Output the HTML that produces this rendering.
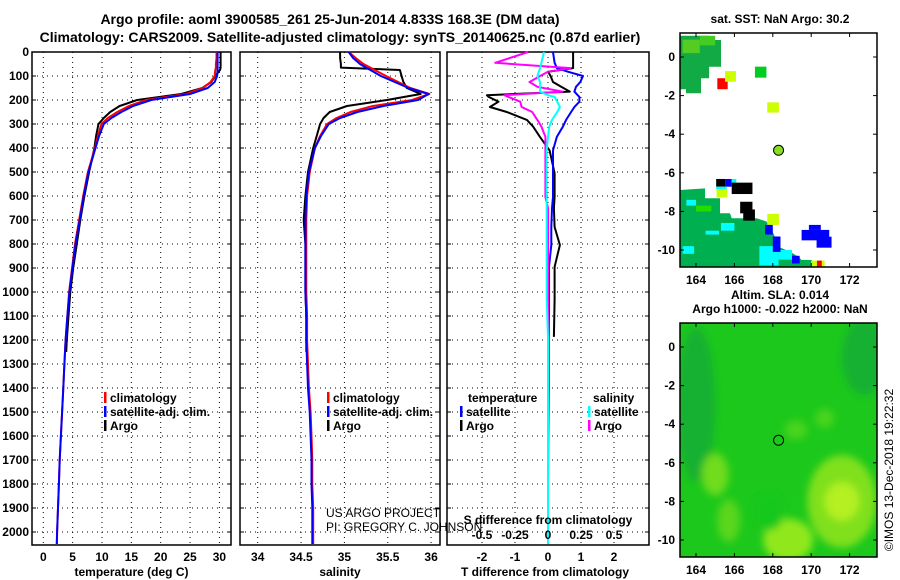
<!DOCTYPE html>
<html><head><meta charset="utf-8"><style>
body{margin:0;background:#fff;}
svg{display:block;font-family:"Liberation Sans",sans-serif;}
.b{font-weight:bold;font-size:12px;}
</style></head><body>
<svg id="c" width="900" height="580" viewBox="0 0 900 580" xmlns="http://www.w3.org/2000/svg">
<defs><filter id="bl" x="-50%" y="-50%" width="200%" height="200%"><feGaussianBlur stdDeviation="4"/></filter>
<clipPath id="cm1"><rect x="680" y="33" width="197" height="234"/></clipPath>
<clipPath id="cm2"><rect x="680" y="323" width="197" height="234"/></clipPath></defs>
<text x="330" y="24" text-anchor="middle" font-weight="bold" font-size="14">Argo profile: aoml 3900585_261 25-Jun-2014 4.833S 168.3E (DM data)</text>
<text x="340" y="42" text-anchor="middle" font-weight="bold" font-size="14">Climatology: CARS2009. Satellite-adjusted climatology: synTS_20140625.nc (0.87d earlier)</text>
</svg>
<script>
// depth levels (dbar)
const depths=[0,25,50,65,75,100,125,150,175,200,225,250,275,300,350,400,500,600,700,800,900,1000,1100,1200,1300,1400,1500,1600,1700,1800,1900,2000,2050];
const tempClim=[29.5,29.5,29.4,29.4,29.3,29.2,28.5,27.2,24.3,17.5,14.6,12.6,11.0,9.9,9.3,8.8,7.6,6.8,6.1,5.4,4.9,4.4,4.1,3.8,3.6,3.4,3.2,3.0,2.8,2.65,2.5,2.35,2.3];
const tempSat=[29.7,29.7,29.7,29.7,29.7,29.6,29.2,28.0,25.0,18.4,15.3,13.3,11.6,10.3,9.5,8.9,7.7,6.9,6.2,5.5,4.95,4.45,4.1,3.8,3.6,3.4,3.2,3.0,2.8,2.65,2.5,2.35,2.3];
const argoDepths=[0,25,50,65,75,100,125,150,175,200,225,250,275,300,350,400,500,600,700,800,900,1000,1100,1200,1250];
const tempArgo=[30.2,30.2,30.2,30.2,30.1,29.3,28.6,27.1,23.5,16.0,13.0,11.4,10.3,9.4,9.0,8.7,7.8,7.0,6.3,5.7,5.1,4.6,4.3,4.0,3.9];
const salClim=[35.05,35.13,35.22,35.30,35.35,35.48,35.62,35.76,35.98,35.78,35.33,35.07,34.91,34.80,34.72,34.66,34.60,34.57,34.56,34.56,34.56,34.56,34.57,34.57,34.58,34.59,34.61,34.62,34.63,34.63,34.64,34.64,34.64];
const salSat=[35.05,35.10,35.18,35.25,35.30,35.42,35.58,35.74,35.97,35.85,35.45,35.15,34.95,34.82,34.73,34.66,34.59,34.56,34.55,34.55,34.55,34.55,34.56,34.56,34.57,34.58,34.60,34.61,34.62,34.62,34.63,34.63,34.63];
const salArgo=[34.95,34.95,34.96,34.96,35.64,35.66,35.68,35.72,35.88,35.49,35.03,34.83,34.76,34.72,34.68,34.64,34.58,34.55,34.53,34.55,34.55,34.55,34.56,34.56,34.56];
// difference panel
const diffDepths=[0,45,67,82,100,125,145,165,180,187,207,229,250,283,311,353,410,505,604,650,729,804,895,1033,1187,1250,1400,1600,1800,2000,2050];
const dTArgo=[0.76,0.76,0.76,0.0,0.08,0.15,0.4,0.66,-1.85,-1.8,-1.5,-1.76,-1.25,-0.64,-0.45,-0.25,0.05,0.2,0.2,0.18,0.2,0.36,0.2,0.2,0.18,null,null,null,null,null,null];
const dTSat=[0.15,0.2,0.27,0.6,1.06,0.98,0.85,0.8,0.9,0.95,0.95,0.8,0.7,0.55,0.45,0.27,0.15,0.15,0.15,0.12,0.1,0.1,0.03,0.03,0.02,0.02,0.02,0.01,0.0,0.0,0.0];
const dSArgo=[-0.15,-0.4,0.17,0.0,-0.06,-0.14,-0.08,0.11,-0.33,-0.3,-0.21,-0.2,-0.12,-0.08,-0.05,-0.02,-0.02,-0.02,-0.02,0.0,0.0,0.0,0.0,0.0,0.0,0.0,0.0,0.0,0.0,0.0,0.0];
const dSSat=[-0.03,-0.05,-0.06,-0.07,-0.08,-0.06,-0.06,-0.06,0.0,0.05,0.07,0.09,0.07,0.03,0.01,0.0,-0.01,-0.01,-0.01,-0.01,-0.01,-0.01,-0.01,-0.01,0.0,0.0,0.0,0.0,0.0,0.0,0.0];
const depthTicks=[0,100,200,300,400,500,600,700,800,900,1000,1100,1200,1300,1400,1500,1600,1700,1800,1900,2000];
const tTicks=[0,5,10,15,20,25,30];
const sTicks=[34,34.5,35,35.5,36];
const sTickLabels=["34","34.5","35","35.5","36"];
const dTTicks=[-2,-1,0,1,2];
const dSTicks=[-0.5,-0.25,0,0.25,0.5];
const dSTickLabels=["-0.5","-0.25","0","0.25","0.5"];
const lonTicks=[164,166,168,170,172];
const latTicks=[0,-2,-4,-6,-8,-10];
// SST map patches [lon0,lat0,lon1,lat1,color]
const sstCells=[[165.11,-1.10,165.65,-1.67,"#ff0000"],[165.51,-0.73,166.08,-1.28,"#ccff00"],[167.07,-0.5,167.67,-1.07,"#00cc22"],[167.71,-2.35,168.32,-2.88,"#ccff00"],[167.71,-8.13,168.32,-8.70,"#ccff00"],
[165.05,-6.32,165.53,-6.72,"#000000"],[165.53,-6.32,165.86,-6.72,"#0000ff"],[165.86,-6.32,166.1,-6.55,"#00ffff"],[165.86,-6.51,166.94,-7.1,"#000000"],[165.07,-6.84,165.63,-7.27,"#ccff00"],[165.05,-6.72,165.6,-6.84,"#00ffff"],
[166.3,-7.5,166.94,-8.1,"#000000"],[166.46,-7.9,167.07,-8.48,"#000000"],[169.5,-8.96,170.94,-9.5,"#0000ff"],[169.88,-8.7,170.5,-8.96,"#0000ff"],[170.28,-9.31,171.06,-9.88,"#0000ff"],
[163.3,-9.8,163.9,-10.2,"#00ffff"],[165.3,-8.6,166.0,-9.0,"#00ffff"],[167.3,-9.8,168.3,-10.8,"#00ffff"],[168.3,-10.0,169.0,-10.5,"#00ffff"],[164.5,-9.0,165.2,-9.2,"#00ffff"],[163.5,-7.4,164.0,-7.7,"#00ffff"],
[168.0,-9.3,168.4,-10.1,"#0000ff"],[167.6,-8.7,168.0,-9.2,"#0000ff"],[169.0,-10.3,169.4,-10.7,"#0000ff"],[170.0,-10.55,170.7,-10.9,"#ccff00"],[170.3,-10.55,170.55,-10.9,"#ff0000"],
[164.0,-7.7,164.8,-8.0,"#22dd00"],[163.3,0.9,164.2,0.2,"#55cc22"],[164.2,1.1,165.0,0.6,"#44cc22"]];
const sstNW=[[163.13,1.1],[164.68,1.1],[164.68,0.88],[165.3,0.88],[165.3,-0.5],[164.68,-0.5],[164.68,-1.1],[164.26,-1.1],[164.26,-1.88],[163.48,-1.88],[163.48,-1.67],[163.13,-1.67]];
const sstSW=[[163.13,-6.89],[164.47,-6.81],[164.47,-7.32],[165.25,-7.32],[165.25,-8.1],[165.77,-8.1],[165.86,-8.36],[166.46,-8.36],[167.16,-8.36],[167.68,-8.53],[168.03,-9.14],[168.11,-9.31],[168.29,-9.83],[168.9,-10.09],[169.33,-10.35],[169.5,-10.52],[170.03,-10.52],[170.12,-10.87],[163.13,-10.87]];
// SLA blobs [lon,lat,rx(deg),ry(deg),color]
const slaBlobs=[[164.0,-3,1.0,4,"#12b030"],[172.8,-0.5,1.2,2,"#12b030"],[171.6,-8,1.8,2.4,"#80e01c"],[171.6,-8,0.9,1.0,"#b4f020"],[168.8,-10,1.3,1.1,"#90e81c"],[165.0,-6.6,0.7,1.1,"#70dc1c"],[165.7,-9,0.6,1.1,"#5ad61c"],[169.2,-4.3,0.6,0.5,"#4ad41c"],[170.7,-3.7,0.5,0.5,"#4ad41c"],[167.8,-8.5,0.8,1.0,"#14c81c"]];
const argoLon=168.3, argoLat=-4.833;

const svg=document.getElementById('c');const NS="http://www.w3.org/2000/svg";
function mk(tag,attrs,parent){const e=document.createElementNS(NS,tag);for(const k in attrs)e.setAttribute(k,attrs[k]);(parent||svg).appendChild(e);return e;}
const TOP=52,BOT=545;
const yD=d=>TOP+d*0.24;
const x1=t=>43.3+t*5.87, x2=s=>257.7+(s-34)*86.7, x3T=t=>548+t*33, x3S=s=>548+s*132;
const lonX=l=>696+(l-164)*19.2, latY1=l=>57-l*19.3, latY2=l=>347-l*19.3;

function panel(name,L,R,xs,ticks,labels,title){
  const g=mk('g',{});
  
  
  ticks.forEach(v=>{const l=mk('line',{x1:xs(v),x2:xs(v),y1:TOP,y2:BOT,stroke:'#000','stroke-dasharray':'1,4'},g);
    });
  depthTicks.forEach(d=>{const l=mk('line',{x1:L,x2:R,y1:yD(d),y2:yD(d),stroke:'#000','stroke-dasharray':'1,4'},g);
    
    mk('line',{x1:R-4,x2:R,y1:yD(d),y2:yD(d),stroke:'#000'},g);mk('line',{x1:L,x2:L+4,y1:yD(d),y2:yD(d),stroke:'#000'},g);});
  const fr=mk('rect',{x:L,y:TOP,width:R-L,height:BOT-TOP,fill:'none',stroke:'#000','stroke-width':1.5},g);
  
  if(labels) ticks.forEach((v,i)=>{const t=mk('text',{x:xs(v),y:561,'text-anchor':'middle',class:'b'},g);t.textContent=labels[i];
    });
  const tt=mk('text',{x:(L+R)/2+(title.length>20?-3:0),y:576,'text-anchor':'middle',class:'b'},g);tt.textContent=title;
  
  return g;
}
function line(name,ds,vs,xs,color,w,parent){
  let p='',pen=false;
  ds.forEach((d,i)=>{const v=vs[i];if(v===null||v===undefined){pen=false;return;}p+=(pen?'L':'M')+xs(v).toFixed(1)+','+yD(d).toFixed(1);pen=true;});
  const e=mk('path',{d:p,fill:'none',stroke:color,'stroke-width':w||2,'stroke-linejoin':'round'},parent);
  return e;
}
const g1=panel('temperature-panel',32,231,x1,tTicks,tTicks.map(String),'temperature (deg C)');
const g2=panel('salinity-panel',240,440,x2,sTicks,sTickLabels,'salinity');
const g3=panel('difference-panel',447,649,x3T,dTTicks,dTTicks.map(String),'T difference from climatology');
depthTicks.forEach(d=>{const t=mk('text',{x:29,y:yD(d)+4,'text-anchor':'end',class:'b'});t.textContent=d;
  });
line('temp-argo-line',argoDepths,tempArgo,x1,'#000',2,g1);
line('temp-climatology-line',depths,tempClim,x1,'#f00',2,g1);
line('temp-satellite-line',depths,tempSat,x1,'#00f',2,g1);
line('sal-argo-line',argoDepths,salArgo,x2,'#000',2,g2);
line('sal-climatology-line',depths,salClim,x2,'#f00',2,g2);
line('sal-satellite-line',depths,salSat,x2,'#00f',2,g2);
line('dT-argo-line',diffDepths,dTArgo,x3T,'#000',2,g3);
line('dT-satellite-line',diffDepths,dTSat,x3T,'#00f',2,g3);
line('dS-argo-line',diffDepths,dSArgo,x3S,'#f0f',2,g3);
line('dS-satellite-line',diffDepths,dSSat,x3S,'#0ff',2,g3);
dSTicks.forEach((v,i)=>{const t=mk('text',{x:x3S(v),y:539,'text-anchor':'middle',class:'b'},g3);t.textContent=dSTickLabels[i];
  });
{const t=mk('text',{x:548,y:524,'text-anchor':'middle',class:'b'},g3);t.textContent='S difference from climatology';
 }
function legend(x,y,color,label,name){const g=mk('g',{});
  mk('rect',{x:x,y:y-10,width:2.5,height:11,fill:color},g);if(label){const t=mk('text',{x:x+6,y:y,class:'b'},g);t.textContent=label;}}
legend(104,402,'#f00','climatology','legend-climatology');
legend(104,416,'#00f','satellite-adj. clim.','legend-satellite-adj');
legend(104,430,'#000','Argo','legend-argo');
legend(327,402,'#f00','climatology','legend-climatology-sal');
legend(327,416,'#00f','satellite-adj. clim.','legend-satellite-adj-sal');
legend(327,430,'#000','Argo','legend-argo-sal');
{const t=mk('text',{x:468,y:402,class:'b'});t.textContent='temperature';
 const s=mk('text',{x:593,y:402,class:'b'});s.textContent='salinity';}
legend(460,416,'#00f','satellite','legend-dT-satellite');
legend(460,430,'#000','Argo','legend-dT-argo');
legend(588,416,'#0ff','satellite','legend-dS-satellite');
legend(588,430,'#f0f','Argo','legend-dS-argo');
{const t=mk('text',{x:326,y:517,'font-size':'12'});t.textContent='US ARGO PROJECT';
 const s=mk('text',{x:326,y:531,'font-size':'12'});s.textContent='PI: GREGORY C. JOHNSON';}

function toPts(arr,ly){return arr.map(p=>lonX(p[0]).toFixed(1)+','+ly(p[1]).toFixed(1)).join(' ');}
function mapFrame(name,top,ly,title1,title2){
  const g=mk('g',{});
  lonTicks.forEach(l=>{mk('line',{x1:lonX(l),x2:lonX(l),y1:top+234,y2:top+230,stroke:'#000'},g);mk('line',{x1:lonX(l),x2:lonX(l),y1:top,y2:top+4,stroke:'#000'},g);
    const t=mk('text',{x:lonX(l),y:top+251,'text-anchor':'middle',class:'b'},g);t.textContent=l;});
  latTicks.forEach(l=>{mk('line',{x1:680,x2:684,y1:ly(l),y2:ly(l),stroke:'#000'},g);mk('line',{x1:877,x2:873,y1:ly(l),y2:ly(l),stroke:'#000'},g);
    const t=mk('text',{x:675,y:ly(l)+4,'text-anchor':'end',class:'b'},g);t.textContent=l;});
  const c=mk('circle',{cx:lonX(argoLon),cy:ly(argoLat),r:5,fill:name==='sst-map'?'#88dd22':'none',stroke:'#000'},g);
  
  mk('rect',{x:680,y:top,width:197,height:234,fill:'none',stroke:'#000','stroke-width':1.5},g);
  const t=mk('text',{x:780,y:title2?top-24:top-10,'text-anchor':'middle',class:'b'},g);t.textContent=title1;
  if(title2){const t2=mk('text',{x:780,y:top-10,'text-anchor':'middle',class:'b'},g);t2.textContent=title2;}
  return g;
}
// SST map
const m1=mk('g',{'clip-path':'url(#cm1)'});
mk('polygon',{points:toPts(sstNW,latY1),fill:'#11aa44'},m1);
mk('polygon',{points:toPts(sstSW,latY1),fill:'#00b050'},m1);
sstCells.forEach(c=>{const r=mk('rect',{x:lonX(c[0]),y:latY1(c[1]),width:lonX(c[2])-lonX(c[0]),height:latY1(c[3])-latY1(c[1]),fill:c[4]},m1);
  });
mapFrame('sst-map',33,latY1,'sat. SST: NaN Argo: 30.2');
// SLA map
const m2=mk('g',{'clip-path':'url(#cm2)'});
mk('rect',{x:680,y:323,width:197,height:234,fill:'#1cc81c'},m2);
const bg=mk('g',{filter:'url(#bl)'},m2);
slaBlobs.forEach(b=>{const e=mk('ellipse',{cx:lonX(b[0]),cy:latY2(b[1]),rx:b[2]*19.2,ry:b[3]*19.3,fill:b[4]},bg);
  });
mapFrame('sla-map',323,latY2,'Altim. SLA: 0.014','Argo h1000: -0.022 h2000: NaN');
{const t=mk('text',{x:893,y:470,'text-anchor':'middle','font-size':'12',transform:'rotate(-90 893 470)'});t.textContent='©IMOS 13-Dec-2018 19:22:32';
 }
</script>
</body></html>
